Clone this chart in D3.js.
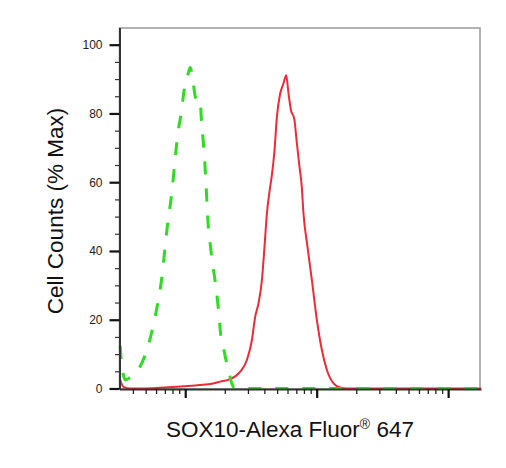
<!DOCTYPE html>
<html>
<head>
<meta charset="utf-8">
<script src="https://cdn.jsdelivr.net/npm/d3@7"></script>
<style>
  body { margin: 0; background: #fff; }
  text { font-family: "Liberation Sans", Arial, sans-serif; }
</style>
</head>
<body>
<svg width="506" height="468"></svg>
<script>
const svg = d3.select('svg');

// isotype control (green dashed) : intensity / % max
const isoX = [320, 326, 338, 350, 382, 402, 455, 523, 591, 657, 730, 796, 839, 885, 932, 983,
  1036, 1091, 1144, 1191, 1234, 1300, 1323, 1370, 1402, 1432, 1470, 1504, 1549, 1605, 1662,
  1721, 1767, 1814, 1846, 1963, 2050, 2161, 2238, 2359, 2620, 178000];
const isoY = [12.4, 8, 4, 2.5, 3.3, 4, 6.5, 12.5, 21, 31, 47, 58, 67, 75, 80, 87,
  90.5, 93.4, 89.6, 85, 84, 84.3, 79, 72, 67, 61, 52.5, 46, 42, 37, 33,
  29, 25, 20.5, 17, 11.5, 8, 4.5, 2, 0.3, 0, 0];

// SOX10 stained sample (red solid)
const sampleX = [320, 338, 382, 479, 645, 869, 1191, 1549, 1846, 2199, 2620, 2946, 3216, 3407,
  3609, 3831, 4009, 4181, 4431, 4560, 4777, 4982, 5277, 5564, 5864, 6105, 6367, 6745, 7071,
  7399, 7690, 7936, 8511, 9193, 10035, 10953, 11955, 13424, 15088, 16971, 178000];
const sampleY = [2.5, 0.5, 0, 0, 0.2, 0.5, 0.9, 1.3, 2, 2.7, 4.9, 8.3, 14.1, 20.9,
  24.8, 31.5, 41.2, 50.9, 58.7, 62, 69.3, 79, 85.8, 88.5, 91.1, 85.8, 81, 78.5, 71.3,
  64.5, 59, 50.9, 41.2, 31.5, 19.9, 11.2, 5.4, 1.5, 0.3, 0, 0];

const yMajor = [0, 20, 40, 60, 80, 100];
const yMinor = d3.range(5, 105, 5).filter(v => v % 20 !== 0);
const xMajor = [1e3, 1e4, 1e5];
const xMinor = [4e2, 5e2, 6e2, 7e2, 8e2, 9e2]
  .concat(d3.range(2, 10).map(k => k * 1e3))
  .concat(d3.range(2, 10).map(k => k * 1e4));

const x = d3.scaleLog().domain([Math.pow(10, 2.5), Math.pow(10, 5.25)]).range([119.5, 481]);
const y = d3.scaleLinear().domain([0, 105]).range([388.5, 27.5]);

const toPts = (xs, ys) => xs.map((v, i) => [v, ys[i]]);

// frame (top/right)
svg.append('rect')
  .attr('x', x.range()[0]).attr('y', 28)
  .attr('width', 480 - x.range()[0]).attr('height', 389 - 28)
  .attr('fill', 'none').attr('stroke', '#999').attr('stroke-width', 1.5);

const line = d3.line()
  .x(d => x(d[0]))
  .y(d => y(d[1]))
  .curve(d3.curveMonotoneX);

svg.append('path')
  .datum(toPts(sampleX, sampleY))
  .attr('d', line)
  .attr('fill', 'none')
  .attr('stroke', '#ee2a36')
  .attr('stroke-width', 2);

svg.append('path')
  .datum(toPts(isoX, isoY))
  .attr('d', line)
  .attr('fill', 'none')
  .attr('stroke', '#2edc22')
  .attr('stroke-width', 3)
  .attr('stroke-dasharray', '13,14');

// x axis
const gx = svg.append('g').attr('transform', 'translate(0,389)');
gx.call(d3.axisBottom(x).tickValues(xMinor).tickFormat('').tickSize(5).tickSizeOuter(0))
  .call(g => g.selectAll('.tick line').attr('stroke', '#222').attr('stroke-width', 1.3));
gx.append('g')
  .call(d3.axisBottom(x).tickValues(xMajor).tickFormat('').tickSize(9).tickSizeOuter(0))
  .call(g => g.select('.domain').remove())
  .call(g => g.selectAll('.tick line').attr('stroke', '#111').attr('stroke-width', 2.2));
gx.select('.domain').attr('stroke', '#333').attr('stroke-width', 2);

// y axis
const gy = svg.append('g').attr('transform', `translate(${x.range()[0]},0)`);
gy.call(d3.axisLeft(y).tickValues(yMinor).tickFormat('').tickSize(4.5).tickSizeOuter(0))
  .call(g => g.selectAll('.tick line').attr('stroke', '#333').attr('stroke-width', 1.2));
gy.select('.domain').attr('stroke', '#333').attr('stroke-width', 2);
gy.append('g')
  .call(d3.axisLeft(y).tickValues(yMajor).tickSize(10).tickPadding(7))
  .call(g => g.select('.domain').remove())
  .call(g => g.selectAll('.tick line').attr('stroke', '#111').attr('stroke-width', 2.2))
  .call(g => g.selectAll('.tick text')
    .attr('font-size', 12).attr('fill', '#222')
    .attr('font-family', '"Liberation Sans", Arial, sans-serif'));

// labels
const xl = svg.append('text')
  .attr('x', 290).attr('y', 437)
  .attr('text-anchor', 'middle')
  .attr('font-size', 22.5).attr('fill', '#111');
xl.append('tspan').text('SOX10-Alexa Fluor');
xl.append('tspan').text('®').attr('font-size', 14).attr('dy', -8);
xl.append('tspan').text(' 647').attr('dy', 8);

svg.append('text')
  .attr('transform', 'translate(63,211) rotate(-90)')
  .attr('text-anchor', 'middle')
  .attr('font-size', 22.5).attr('fill', '#111')
  .text('Cell Counts (% Max)');
</script>
</body>
</html>
